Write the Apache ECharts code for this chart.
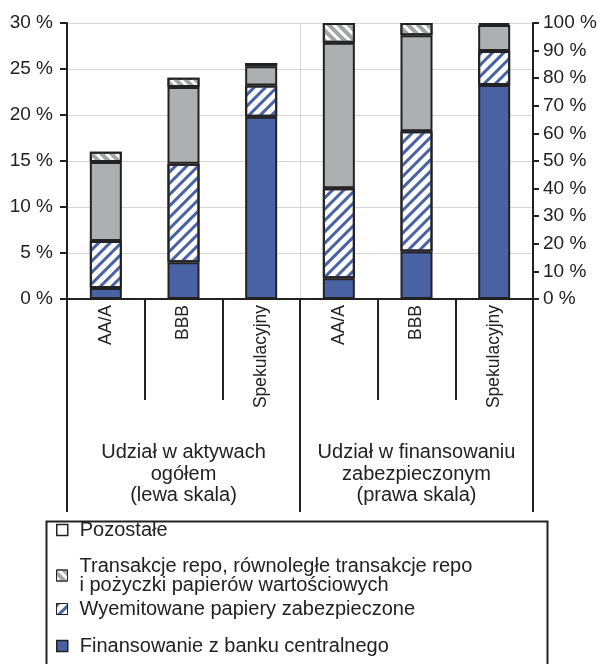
<!DOCTYPE html>
<html>
<head>
<meta charset="utf-8">
<script src="https://cdn.jsdelivr.net/npm/echarts@6/dist/echarts.min.js"></script>
<style>html,body{margin:0;padding:0;background:#fff}#c{width:600px;height:664px}</style>
</head>
<body>
<div id="c"></div>
<script>
// Categories
var categories = ['AA/A', 'BBB', 'Spekulacyjny', 'AA/A', 'BBB', 'Spekulacyjny'];
var groups = ['Udział w aktywach\nogółem\n(lewa skala)', 'Udział w finansowaniu\nzabezpieczonym\n(prawa skala)'];
var seriesNames = ['Finansowanie z banku centralnego', 'Wyemitowane papiery zabezpieczone', 'Pozostałe',
  'Transakcje repo, równoległe transakcje repo\ni pożyczki papierów wartościowych'];
var legendOrder = ['Pozostałe', 'Transakcje repo, równoległe transakcje repo\ni pożyczki papierów wartościowych',
  'Wyemitowane papiery zabezpieczone', 'Finansowanie z banku centralnego'];
// Left scale (share in total assets, %) : AA/A, BBB, Spekulacyjny
var leftCentral = [1.2, 4.0, 19.8];
var leftSecured = [5.1, 10.7, 3.4];
var leftGray = [8.6, 8.35, 2.1];
var leftTop = [1.1, 1.0, 0.35];
// Right scale (share in secured funding, %)
var rightCentral = [7.5, 17.2, 77.5];
var rightSecured = [32.6, 43.6, 12.4];
var rightGray = [52.7, 34.8, 9.4];
var rightTop = [7.2, 4.4, 0.7];
var leftTicks = {min: 0, max: 30, interval: 5};
var rightTicks = {min: 0, max: 100, interval: 10};

var BLUE = '#4862a3', GRAY = '#aeafb1', DARK = '#222', HATCHGRAY = '#a3a4a6';
var styles = [
  {color: BLUE, borderColor: DARK, borderWidth: 2},
  {color: '#fff', borderColor: DARK, borderWidth: 2,
    decal: {symbol: 'rect', dashArrayX: [1, 0], dashArrayY: [3, 5], rotation: -Math.PI / 4, color: BLUE, symbolSize: 1}},
  {color: GRAY, borderColor: DARK, borderWidth: 2},
  {color: '#fff', borderColor: DARK, borderWidth: 2,
    decal: {symbol: 'rect', dashArrayX: [1, 0], dashArrayY: [4, 3], rotation: Math.PI / 4, color: HATCHGRAY, symbolSize: 1}}
];
var legendIconStyles = {
  'Pozostałe': {color: '#fff', borderColor: DARK, borderWidth: 1.5},
  'Transakcje repo, równoległe transakcje repo\ni pożyczki papierów wartościowych': {borderColor: DARK, borderWidth: 1},
  'Wyemitowane papiery zabezpieczone': {borderColor: DARK, borderWidth: 1},
  'Finansowanie z banku centralnego': {color: BLUE, borderColor: DARK, borderWidth: 1.5}
};
var legendTops = [520, 556, 599, 636];

var leftData = [leftCentral, leftSecured, leftGray, leftTop];
var rightData = [rightCentral, rightSecured, rightGray, rightTop];
var series = [];
for (var i = 0; i < 4; i++) {
  series.push({
    name: seriesNames[i], type: 'bar', stack: 'L', yAxisIndex: 0, xAxisIndex: 0,
    barWidth: 32, barGap: '-100%', itemStyle: styles[i],
    data: leftData[i].concat(['-', '-', '-'])
  });
}
for (var j = 0; j < 4; j++) {
  series.push({
    name: seriesNames[j], type: 'bar', stack: 'R', yAxisIndex: 1, xAxisIndex: 0,
    barWidth: 32, barGap: '-100%', itemStyle: styles[j],
    data: ['-', '-', '-'].concat(rightData[j])
  });
}

var FONT = 'Liberation Sans';
var legends = legendOrder.map(function (n, k) {
  return {
    left: 56, top: legendTops[k], orient: 'vertical', padding: 0,
    itemWidth: 11, itemHeight: 11, selectedMode: false,
    data: [{name: n, icon: 'rect', itemStyle: legendIconStyles[n]}],
    textStyle: {fontFamily: FONT, fontSize: 20, color: DARK, lineHeight: 19, padding: [0, 0, 0, 7]}
  };
});

var chart = echarts.init(document.getElementById('c'), null, {renderer: 'canvas'});
chart.setOption({
  animation: false,
  aria: {enabled: false},
  grid: {left: 67, right: 67, top: 23, bottom: 365},
  legend: legends,
  graphic: [{
    type: 'rect', left: 44, top: 519, silent: true,
    shape: {width: 501, height: 170},
    style: {fill: 'none', stroke: DARK, lineWidth: 2}
  }],
  xAxis: [{
    type: 'category', data: categories, position: 'bottom',
    axisLine: {lineStyle: {color: DARK, width: 2}},
    axisTick: {show: true, interval: 0, length: 101, lineStyle: {color: DARK, width: 2}},
    axisLabel: {rotate: 90, margin: 6, interval: 0, fontFamily: FONT, fontSize: 17.5, color: DARK},
    splitLine: {show: false}
  }, {
    type: 'category', data: groups, position: 'bottom',
    axisLine: {show: false},
    axisTick: {show: true, interval: 0, length: 213, lineStyle: {color: DARK, width: 2}},
    axisLabel: {margin: 143, interval: 0, fontFamily: FONT, fontSize: 20, color: DARK, lineHeight: 21.5},
    splitLine: {show: true, lineStyle: {color: '#d6d6d6', width: 1}}
  }],
  yAxis: [{
    type: 'value', min: leftTicks.min, max: leftTicks.max, interval: leftTicks.interval, position: 'left',
    axisLine: {show: true, lineStyle: {color: DARK, width: 2}},
    axisTick: {show: true, length: 7, lineStyle: {color: DARK, width: 2}},
    axisLabel: {formatter: '{value} %', margin: 14, fontFamily: FONT, fontSize: 19, color: DARK},
    splitLine: {show: true, lineStyle: {color: '#d6d6d6', width: 1}}
  }, {
    type: 'value', min: rightTicks.min, max: rightTicks.max, interval: rightTicks.interval, position: 'right',
    axisLine: {show: true, lineStyle: {color: DARK, width: 2}},
    axisTick: {show: true, length: 6, lineStyle: {color: DARK, width: 2}},
    axisLabel: {formatter: '{value} %', margin: 10, fontFamily: FONT, fontSize: 19, color: DARK},
    splitLine: {show: false}
  }],
  series: series
});
</script>
</body>
</html>
